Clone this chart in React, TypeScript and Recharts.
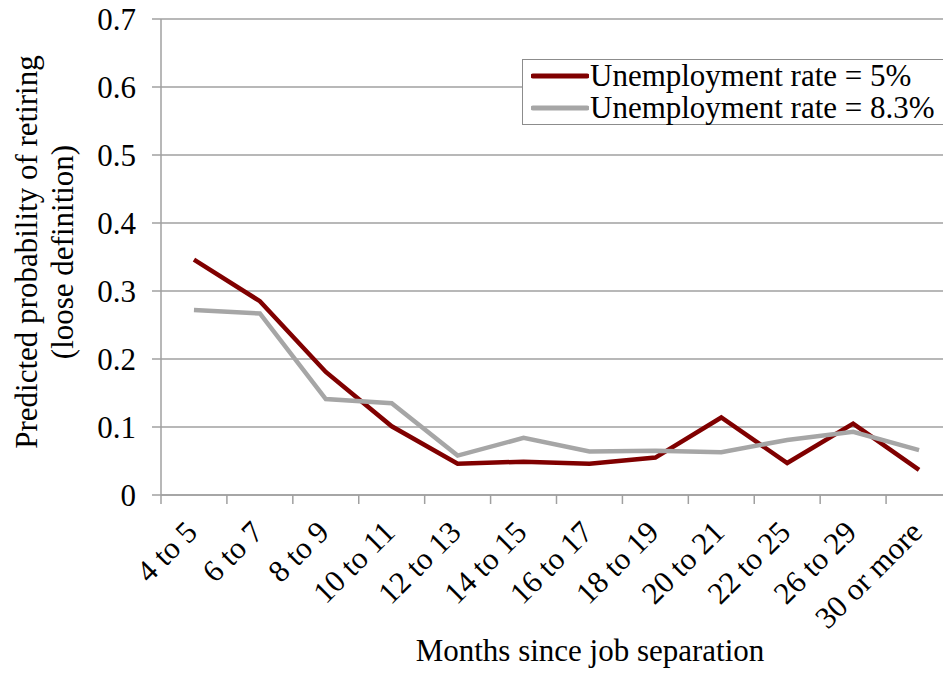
import React from "react";
import { LineChart, Line, XAxis, YAxis, CartesianGrid, Label } from "recharts";

const categories = [
  "4 to 5", "6 to 7", "8 to 9", "10 to 11", "12 to 13", "14 to 15",
  "16 to 17", "18 to 19", "20 to 21", "22 to 25", "26 to 29", "30 or more",
];
const rate5 = [0.346, 0.285, 0.181, 0.101, 0.046, 0.049, 0.046, 0.055, 0.114, 0.047, 0.105, 0.037];
const rate83 = [0.272, 0.267, 0.141, 0.135, 0.058, 0.084, 0.064, 0.065, 0.063, 0.081, 0.093, 0.066];
const yTicks = [0, 0.1, 0.2, 0.3, 0.4, 0.5, 0.6, 0.7];

const seriesNames = ["Unemployment rate = 5%", "Unemployment rate = 8.3%"];
const RED = "#800000";
const GRAY = "#a6a6a6";
const AXIS = "#a0a0a0";
const FONT = '"Liberation Serif", "Times New Roman", serif';

const W = 960;
const H = 675;
const PLOT_LEFT = 161;
const PLOT_RIGHT = 952;
const BAND = (PLOT_RIGHT - PLOT_LEFT) / categories.length;

const data = categories.map((month, i) => ({ month, r5: rate5[i], r83: rate83[i] }));

// tick marks sit between categories, labels run up-right to the category centre
function MonthTick(props: any) {
  const { x, y, payload } = props;
  return (
    <g>
      <line x1={x - BAND / 2} y1={y} x2={x - BAND / 2} y2={y + 9} stroke={AXIS} strokeWidth={1.5} />
      <text
        x={x + 5}
        y={y + 39}
        textAnchor="end"
        transform={`rotate(-45 ${x + 5} ${y + 39})`}
        fontSize={31}
        fontFamily={FONT}
        fill="#000"
      >
        {payload.value}
      </text>
    </g>
  );
}

function LegendBox() {
  const colors = [RED, GRAY];
  return (
    <div
      style={{
        position: "absolute",
        left: 522,
        top: 59,
        width: 440,
        boxSizing: "border-box",
        border: "1.5px solid #8c8c8c",
        background: "#fff",
        padding: "0 0 0 8px",
        fontFamily: FONT,
        fontSize: 31,
        lineHeight: "32px",
        color: "#000",
        whiteSpace: "nowrap",
      }}
    >
      {seriesNames.map((n, i) => (
        <div key={n} style={{ display: "flex", alignItems: "center" }}>
          <svg width={58} height={10} style={{ marginRight: 1 }}>
            <line x1={2} y1={5} x2={56} y2={5} stroke={colors[i]} strokeWidth={5} strokeLinecap="round" />
          </svg>
          <span>{n}</span>
        </div>
      ))}
    </div>
  );
}

export default function App() {
  return (
    <div style={{ position: "absolute", left: 0, top: 0, width: 943, height: 675, overflow: "hidden", background: "#fff" }}>
      <LineChart width={W} height={H} data={data} margin={{ top: 19, right: W - PLOT_RIGHT, left: 0, bottom: 0 }}>
        <CartesianGrid vertical={false} stroke={AXIS} strokeWidth={1.5} />
        <XAxis
          dataKey="month"
          scale="band"
          interval={0}
          height={180}
          axisLine={{ stroke: AXIS, strokeWidth: 1.5 }}
          tickLine={false}
          tickSize={0}
          tickMargin={0}
          tick={<MonthTick />}
        >
          <Label
            content={() => (
              <text x={590} y={661} textAnchor="middle" fontSize={31} fontFamily={FONT} fill="#000">
                Months since job separation
              </text>
            )}
          />
        </XAxis>
        <YAxis
          width={PLOT_LEFT}
          domain={[0, 0.7]}
          ticks={yTicks}
          interval={0}
          tickFormatter={(v: number) => String(v)}
          axisLine={{ stroke: AXIS, strokeWidth: 1.5 }}
          tickLine={{ stroke: AXIS, strokeWidth: 1.5 }}
          tickSize={9}
          tickMargin={16}
          tick={{ fontSize: 31, fontFamily: FONT, fill: "#000" }}
        >
          <Label
            content={() => (
              <g transform="rotate(-90 43 252)">
                <text x={43} y={252} textAnchor="middle" fontSize={31} fontFamily={FONT} fill="#000">
                  <tspan x={43} dy={-6}>Predicted probability of retiring</tspan>
                  <tspan x={43} dy={36}>(loose definition)</tspan>
                </text>
              </g>
            )}
          />
        </YAxis>
        <Line dataKey="r5" name={seriesNames[0]} type="linear" stroke={RED} strokeWidth={4.5} dot={false} isAnimationActive={false} />
        <Line dataKey="r83" name={seriesNames[1]} type="linear" stroke={GRAY} strokeWidth={4.5} dot={false} isAnimationActive={false} />
      </LineChart>
      <LegendBox />
    </div>
  );
}
